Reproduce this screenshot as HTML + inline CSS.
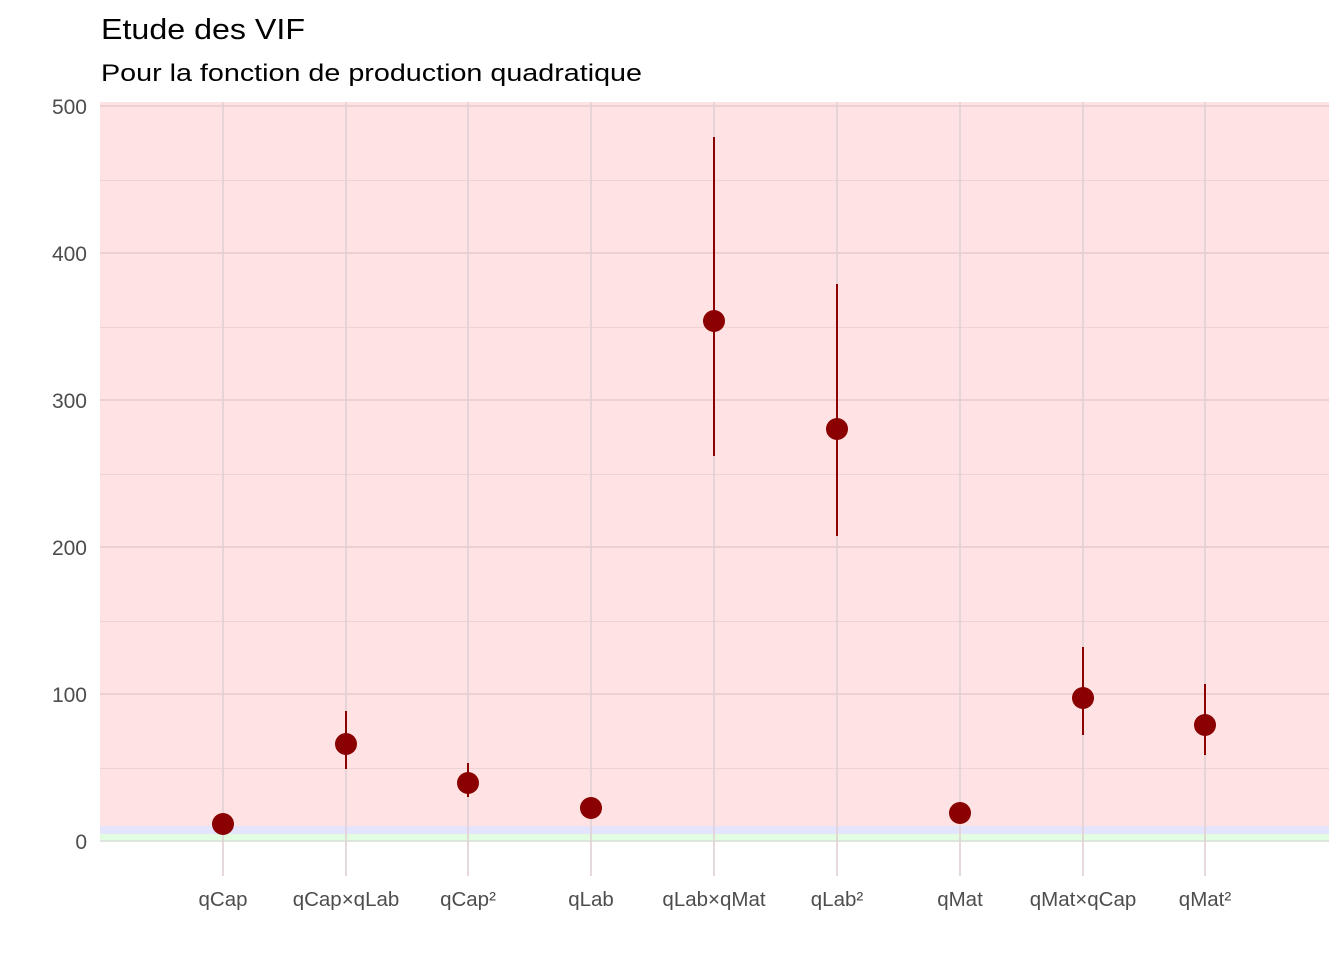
<!DOCTYPE html>
<html><head><meta charset="utf-8"><style>html,body{margin:0;padding:0;background:#fff}svg{display:block}text{font-family:"Liberation Sans",sans-serif}</style></head>
<body>
<svg width="1344" height="960" xmlns="http://www.w3.org/2000/svg">
<rect width="1344" height="960" fill="#fff"/>
<text x="101" y="39" font-size="29" fill="#000" textLength="204" lengthAdjust="spacingAndGlyphs">Etude des VIF</text>
<text x="101" y="81" font-size="24" fill="#000" textLength="541" lengthAdjust="spacingAndGlyphs">Pour la fonction de production quadratique</text>
<rect x="100" y="102" width="1229" height="724" fill="#ffe3e4"/>
<rect x="100" y="826" width="1229" height="8" fill="#e4e4fd"/>
<rect x="100" y="834" width="1229" height="7" fill="#e3fde3"/>
<g stroke="#efd2d4" stroke-width="1">
<line x1="100" x2="1329" y1="180.5" y2="180.5"/>
<line x1="100" x2="1329" y1="327.5" y2="327.5"/>
<line x1="100" x2="1329" y1="474.5" y2="474.5"/>
<line x1="100" x2="1329" y1="621.5" y2="621.5"/>
<line x1="100" x2="1329" y1="768.5" y2="768.5"/>
</g>
<g stroke="#ecd0d2" stroke-width="2">
<line x1="100" x2="1329" y1="106" y2="106"/>
<line x1="100" x2="1329" y1="253" y2="253"/>
<line x1="100" x2="1329" y1="400" y2="400"/>
<line x1="100" x2="1329" y1="547" y2="547"/>
<line x1="100" x2="1329" y1="694" y2="694"/>
<line x1="100" x2="1329" y1="841" y2="841" stroke="#dde6dd"/>
</g>
<g stroke="#e0d0d4" stroke-opacity="0.8" stroke-width="2">
<line x1="223" x2="223" y1="102" y2="876"/>
<line x1="346" x2="346" y1="102" y2="876"/>
<line x1="468" x2="468" y1="102" y2="876"/>
<line x1="591" x2="591" y1="102" y2="876"/>
<line x1="714" x2="714" y1="102" y2="876"/>
<line x1="837" x2="837" y1="102" y2="876"/>
<line x1="960" x2="960" y1="102" y2="876"/>
<line x1="1083" x2="1083" y1="102" y2="876"/>
<line x1="1205" x2="1205" y1="102" y2="876"/>
</g>
<g font-size="21" fill="#4d4d4d" text-anchor="end">
<text x="87" y="114">500</text>
<text x="87" y="261">400</text>
<text x="87" y="408">300</text>
<text x="87" y="555">200</text>
<text x="87" y="702">100</text>
<text x="87" y="849">0</text>
</g>
<g font-size="20.5" fill="#4d4d4d" text-anchor="middle">
<text x="223" y="906">qCap</text>
<text x="346" y="906">qCap×qLab</text>
<text x="468" y="906">qCap²</text>
<text x="591" y="906">qLab</text>
<text x="714" y="906">qLab×qMat</text>
<text x="837" y="906">qLab²</text>
<text x="960" y="906">qMat</text>
<text x="1083" y="906">qMat×qCap</text>
<text x="1205" y="906">qMat²</text>
</g>
<g stroke="#8b0000" stroke-width="2">
<line x1="346" x2="346" y1="711" y2="769"/>
<line x1="468" x2="468" y1="763" y2="797"/>
<line x1="714" x2="714" y1="137" y2="456"/>
<line x1="837" x2="837" y1="284" y2="536"/>
<line x1="1083" x2="1083" y1="647" y2="735"/>
<line x1="1205" x2="1205" y1="684" y2="755"/>
</g>
<g fill="#8b0000">
<circle cx="223" cy="824" r="11"/>
<circle cx="346" cy="744" r="11"/>
<circle cx="468" cy="783" r="11"/>
<circle cx="591" cy="808" r="11"/>
<circle cx="714" cy="321" r="11"/>
<circle cx="837" cy="429" r="11"/>
<circle cx="960" cy="813" r="11"/>
<circle cx="1083" cy="698" r="11"/>
<circle cx="1205" cy="725" r="11"/>
</g>
</svg>
</body></html>
